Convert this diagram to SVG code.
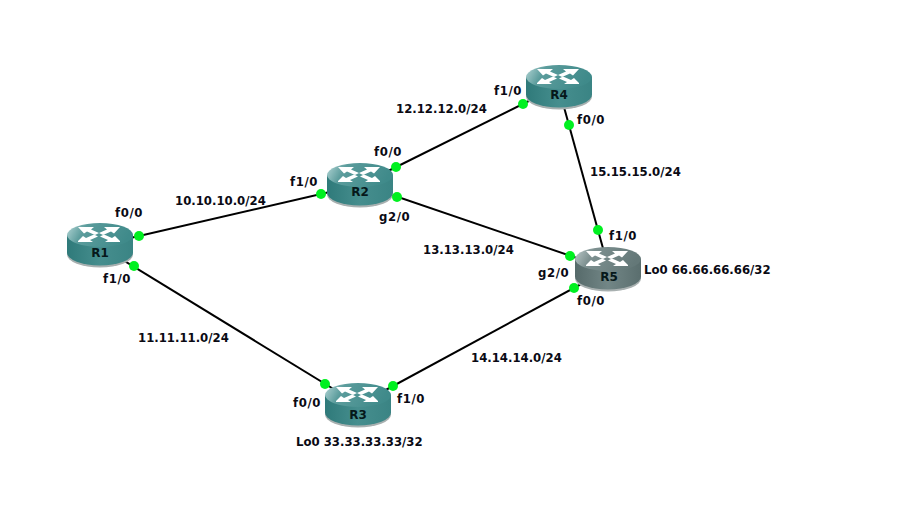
<svg xmlns="http://www.w3.org/2000/svg" width="908" height="506" viewBox="0 0 908 506">
<style>
text{font-family:"DejaVu Sans","Liberation Sans",sans-serif;font-weight:700;font-size:11.7px;fill:#0a0a14}
.name{font-size:12px;text-anchor:middle;fill:#06181a}
.port{letter-spacing:.6px}
.link{stroke:#000;stroke-width:2;fill:none}
.dot{fill:#00f020}
.wh{fill:#fff;stroke:none}
</style>
<defs>
<linearGradient id="topT" x1="0" y1="0" x2="1" y2="0.2"><stop offset="0" stop-color="#b5d6d6"/><stop offset="0.3" stop-color="#5b9c9c"/><stop offset="1" stop-color="#3f8a8a"/></linearGradient>
<linearGradient id="sideT" x1="0" y1="0" x2="1" y2="0"><stop offset="0" stop-color="#2f7a7a"/><stop offset="0.5" stop-color="#468e8e"/><stop offset="1" stop-color="#3a8484"/></linearGradient>
<linearGradient id="topG" x1="0" y1="0" x2="1" y2="0.2"><stop offset="0" stop-color="#bfcccc"/><stop offset="0.3" stop-color="#7d9090"/><stop offset="1" stop-color="#647878"/></linearGradient>
<linearGradient id="sideG" x1="0" y1="0" x2="1" y2="0"><stop offset="0" stop-color="#566a6a"/><stop offset="0.5" stop-color="#728686"/><stop offset="1" stop-color="#5a6e6e"/></linearGradient>
<g id="arrows" transform="translate(-1,-3)">
<path class="wh" d="M12 7 L28 7 L25 9.5 L33 13 L29 15 L21 11.5 L18 13.5 Z"/>
<path class="wh" d="M54 7 L38 7 L41 9.5 L33 13 L37 15 L45 11.5 L48 13.5 Z"/>
<path class="wh" d="M12 21 L17 16 L20 18 L28 14.5 L32 16.5 L24 20 L27 22 L12 22 Z"/>
<path class="wh" d="M54 21 L49 16 L46 18 L38 14.5 L34 16.5 L42 20 L39 22 L54 22 Z"/>
</g>
<g id="rt">
<path d="M0 12 V30 A33 13 0 0 0 66 30 V12 Z" fill="#a8b0b0" transform="translate(0,1.5)"/>
<path d="M0 12 V29.5 A33 13 0 0 0 66 29.5 V12 Z" fill="url(#sideT)"/>
<ellipse cx="33" cy="12" rx="33" ry="12" fill="url(#topT)"/>
<use href="#arrows"/>
</g>
<g id="rg">
<path d="M0 12 V30 A33 13 0 0 0 66 30 V12 Z" fill="#a8b0b0" transform="translate(0,1.5)"/>
<path d="M0 12 V29.5 A33 13 0 0 0 66 29.5 V12 Z" fill="url(#sideG)"/>
<ellipse cx="33" cy="12" rx="33" ry="12" fill="url(#topG)"/>
<use href="#arrows"/>
</g>
</defs>
<rect width="908" height="506" fill="#fff"/>
<g id="connectors">
<line class="link" x1="100" y1="245" x2="360" y2="185"/>
<line class="link" x1="100" y1="246" x2="358" y2="404"/>
<line class="link" x1="360" y1="185" x2="559" y2="86"/>
<line class="link" x1="360" y1="184" x2="609" y2="269"/>
<line class="link" x1="559" y1="89" x2="609" y2="270"/>
<line class="link" x1="358" y1="405" x2="609" y2="269"/>
</g>
<g id="R1"><use href="#rt" x="67" y="223"/><text class="name" x="100" y="257">R1</text></g>
<g id="R2"><use href="#rt" x="327" y="163"/><text class="name" x="360" y="196">R2</text></g>
<g id="R3"><use href="#rt" x="325" y="383"/><text class="name" x="358" y="419">R3</text></g>
<g id="R4"><use href="#rt" x="526" y="65"/><text class="name" x="559" y="99">R4</text></g>
<g id="R5"><use href="#rg" x="575" y="247"/><text class="name" x="609" y="281">R5</text></g>
<g id="ports">
<circle class="dot" cx="139" cy="236" r="5"/><circle class="dot" cx="134" cy="266" r="5"/>
<circle class="dot" cx="321" cy="194" r="5"/><circle class="dot" cx="396" cy="167" r="5"/><circle class="dot" cx="397" cy="197" r="5"/>
<circle class="dot" cx="325" cy="384" r="5"/><circle class="dot" cx="393" cy="386" r="5"/>
<circle class="dot" cx="523" cy="104" r="5"/><circle class="dot" cx="569" cy="125" r="5"/>
<circle class="dot" cx="598" cy="230" r="5"/><circle class="dot" cx="570" cy="256" r="5"/><circle class="dot" cx="574" cy="288" r="5"/>
</g>
<g id="labels">
<text class="port" x="115" y="217">f0/0</text>
<text class="port" x="103" y="283">f1/0</text>
<text class="port" x="290" y="186">f1/0</text>
<text class="port" x="374" y="156">f0/0</text>
<text class="port" x="379" y="221">g2/0</text>
<text class="port" x="293" y="407">f0/0</text>
<text class="port" x="397" y="403">f1/0</text>
<text class="port" x="494" y="95">f1/0</text>
<text class="port" x="577" y="124">f0/0</text>
<text class="port" x="609" y="240">f1/0</text>
<text class="port" x="538" y="277">g2/0</text>
<text class="port" x="577" y="305">f0/0</text>
<text x="175" y="205">10.10.10.0/24</text>
<text x="138" y="342">11.11.11.0/24</text>
<text x="396" y="113">12.12.12.0/24</text>
<text x="423" y="254">13.13.13.0/24</text>
<text x="471" y="362">14.14.14.0/24</text>
<text x="590" y="176">15.15.15.0/24</text>
<text x="644" y="274">Lo0 66.66.66.66/32</text>
<text x="296" y="446">Lo0 33.33.33.33/32</text>
</g>
</svg>
